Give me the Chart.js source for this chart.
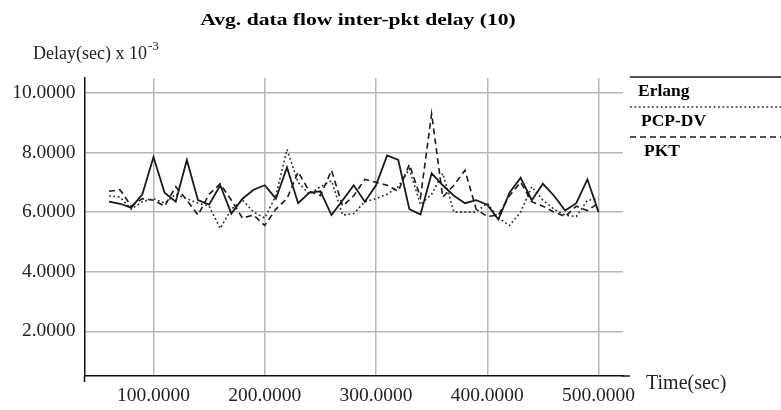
<!DOCTYPE html>
<html><head><meta charset="utf-8">
<script src="https://cdn.jsdelivr.net/npm/chart.js@4/dist/chart.umd.min.js"></script>
<style>html,body{margin:0;padding:0;background:#fff}#wrap{width:781px;height:410px;position:relative}</style>
</head><body><div id="wrap"><canvas id="c" width="781" height="410"></canvas></div>
<script>
const times = [60,70,80,90,100,110,120,130,140,150,160,170,180,190,200,210,220,230,240,250,260,270,280,290,300,310,320,330,340,350,360,370,380,390,400,410,420,430,440,450,460,470,480,490,500];
const erlang = [6.35,6.28,6.15,6.6,7.85,6.65,6.35,7.75,6.4,6.25,6.9,5.95,6.45,6.75,6.9,6.45,7.5,6.3,6.65,6.7,5.9,6.4,6.9,6.35,6.9,7.9,7.75,6.1,5.92,7.3,6.9,6.55,6.3,6.4,6.25,5.75,6.65,7.15,6.4,6.95,6.55,6.05,6.3,7.1,6.0];
const pcpdv = [6.55,6.5,6.1,6.35,6.45,6.3,6.6,6.45,6.3,6.2,5.45,6.1,6.4,6.0,5.8,6.55,8.1,7.0,6.6,6.85,7.05,5.9,5.95,6.35,6.45,6.6,6.85,7.45,6.25,6.6,7.3,6.0,6.0,6.0,6.3,5.8,5.55,6.0,6.85,6.4,6.1,5.9,5.85,6.4,6.45];
const pkt = [6.7,6.75,6.2,6.45,6.4,6.2,6.85,6.4,5.9,6.6,6.95,6.4,5.8,5.9,5.55,6.1,6.45,7.35,6.7,6.55,7.4,6.2,6.55,7.1,7.0,6.9,6.7,7.6,6.5,9.3,6.5,6.9,7.4,6.1,5.85,5.9,6.55,7.0,6.35,6.2,6.0,5.85,6.2,6.05,6.3];
const seriesNames = ['Erlang','PCP-DV','PKT'];
const yTicks = [2,4,6,8,10];
const xTicks = [100,200,300,400,500];
const chartTitle = 'Avg. data flow inter-pkt delay (10)';
const yLabel = 'Delay(sec) x 10';
const yLabelExp = '-3';
const xLabel = 'Time(sec)';

const serif = "'Liberation Serif', 'DejaVu Serif', serif";
const styles = [
  {color:'#1a1a1a', width:1.8, dash:[]},
  {color:'#2a2a2a', width:1.6, dash:[1.8,2.6]},
  {color:'#1a1a1a', width:1.6, dash:[6,4]}
];
const seriesData = [erlang, pcpdv, pkt];

function stretchedText(ctx, text, x, y, sx, align){
  ctx.save();
  ctx.translate(x, y);
  ctx.scale(sx, 1);
  ctx.textAlign = align;
  ctx.fillText(text, 0, 0);
  ctx.restore();
}

const decor = {
  id:'decor',
  afterDraw(chart){
    const ctx = chart.ctx;
    const ca = chart.chartArea;
    ctx.save();
    // axis extensions
    ctx.strokeStyle = '#111'; ctx.lineWidth = 1.5; ctx.setLineDash([]);
    ctx.beginPath(); ctx.moveTo(ca.right - 1, ca.bottom); ctx.lineTo(ca.right + 7, ca.bottom); ctx.stroke();
    ctx.beginPath(); ctx.moveTo(ca.left, ca.bottom); ctx.lineTo(ca.left, ca.bottom + 6); ctx.stroke();
    // title
    ctx.fillStyle = '#000';
    ctx.font = "bold 17px " + serif;
    ctx.textBaseline = 'middle';
    stretchedText(ctx, chartTitle, 358, 21, 1.27, 'center');
    // y label
    ctx.fillStyle = '#222';
    ctx.font = "18px " + serif;
    ctx.textBaseline = 'alphabetic';
    stretchedText(ctx, yLabel, 33, 59, 1.0, 'left');
    const w = ctx.measureText(yLabel).width;
    ctx.font = "13px " + serif;
    stretchedText(ctx, yLabelExp, 33 + w + 1, 50, 1.0, 'left');
    // x label
    ctx.font = "20px " + serif;
    ctx.textBaseline = 'middle';
    stretchedText(ctx, xLabel, 646, 384, 1.0, 'left');
    // legend
    chart.data.datasets.forEach((ds, i) => {
      const ly = 77 + i * 30;
      ctx.strokeStyle = ds.borderColor; ctx.lineWidth = i === 0 ? 1.4 : ds.borderWidth;
      ctx.setLineDash(ds.borderDash || []);
      ctx.beginPath(); ctx.moveTo(630, ly); ctx.lineTo(781, ly); ctx.stroke();
      ctx.setLineDash([]);
      ctx.fillStyle = '#000';
      ctx.font = "bold 16.5px " + serif;
      ctx.textBaseline = 'middle';
      stretchedText(ctx, ds.label, 638 + i * 3, ly + 15, 1.06, 'left');
    });
    ctx.restore();
  }
};

new Chart(document.getElementById('c'), {
  type:'line',
  data:{
    datasets: seriesNames.map((n, i) => ({
      label:n,
      data: times.map((t, j) => ({x:t, y:seriesData[i][j]})),
      borderColor: styles[i].color,
      borderWidth: styles[i].width,
      borderDash: styles[i].dash,
      pointRadius:0, tension:0, fill:false
    }))
  },
  options:{
    responsive:false, animation:false, devicePixelRatio:1,
    layout:{padding:{left:0, top:78, right:158, bottom:0}},
    plugins:{legend:{display:false}, title:{display:false}, tooltip:{enabled:false}},
    scales:{
      x:{
        type:'linear', min:38, max:522,
        afterBuildTicks(s){ s.ticks = xTicks.map(v => ({value:v})); },
        afterFit(s){ s.height = 34; },
        grid:{color:'#b8b8b8', lineWidth:1.5, drawTicks:false},
        border:{display:true, color:'#111', width:1.5},
        ticks:{padding:8, color:'#222', font:{family:serif, size:19.5}, maxRotation:0,
          callback:v => Number(v).toFixed(4)}
      },
      y:{
        type:'linear', min:0.5, max:10.5,
        afterBuildTicks(s){ s.ticks = yTicks.map(v => ({value:v})); },
        afterFit(s){ s.width = 84.5; },
        grid:{color:'#b8b8b8', lineWidth:1.5, drawTicks:false},
        border:{display:true, color:'#111', width:1.5},
        ticks:{padding:9, color:'#222', font:{family:serif, size:19.5},
          callback:v => Number(v).toFixed(4)}
      }
    }
  },
  plugins:[decor]
});
</script></body></html>
